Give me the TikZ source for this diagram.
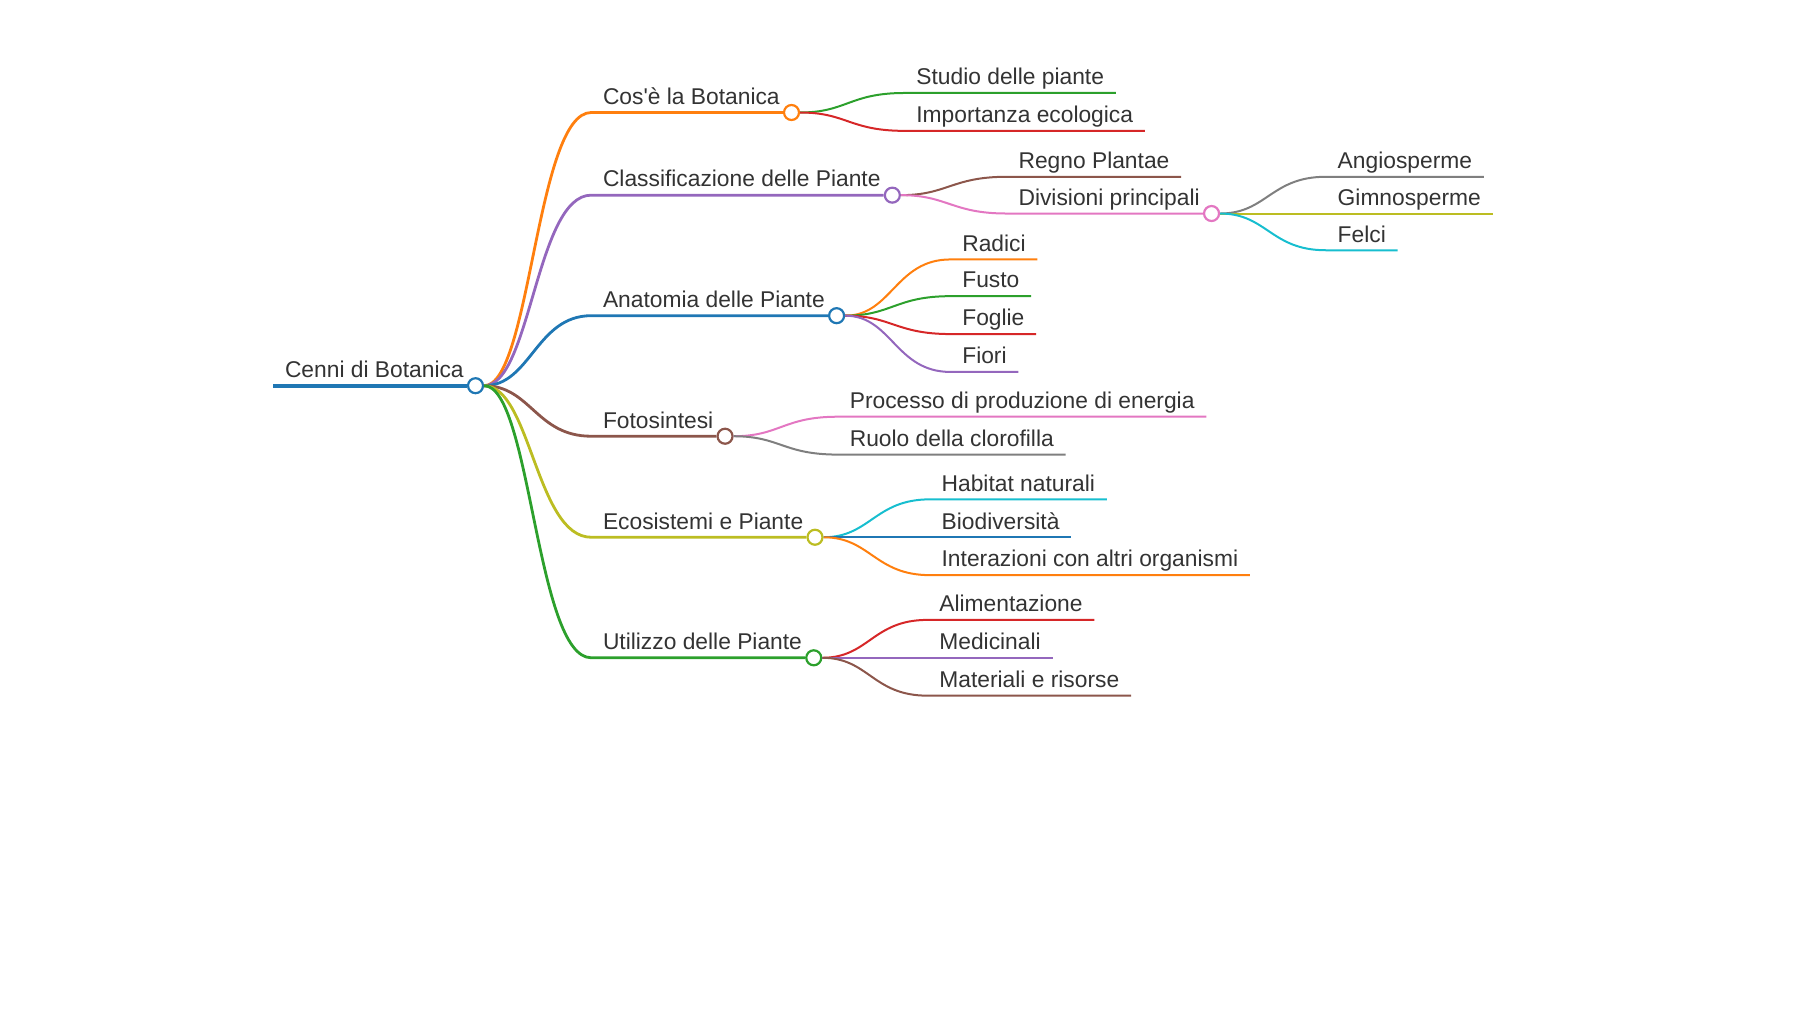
\documentclass[tikz,border=0pt]{standalone}
\usepackage{fontspec}
\newfontfamily\mapfont{Liberation Sans}
\definecolor{tBlue}{HTML}{1F77B4}
\definecolor{tOrange}{HTML}{FF7F0E}
\definecolor{tGreen}{HTML}{2CA02C}
\definecolor{tRed}{HTML}{D62728}
\definecolor{tPurple}{HTML}{9467BD}
\definecolor{tBrown}{HTML}{8C564B}
\definecolor{tPink}{HTML}{E377C2}
\definecolor{tGray}{HTML}{7F7F7F}
\definecolor{tOlive}{HTML}{BCBD22}
\definecolor{tCyan}{HTML}{17BECF}
\definecolor{txt}{HTML}{333333}

\begin{document}
\begin{tikzpicture}[x=0.574pt, y=-0.574pt,
		topic/.style={anchor=south west, inner xsep=5.7pt, inner ysep=3.9pt, text height=8.5pt, text depth=0pt, text=txt, font=\mapfont\fontsize{11.4}{13}\selectfont},
		knot/.style={draw=#1, circle, fill=white, minimum size=7.5pt, inner sep=0pt, line width=1.1pt},
		lvl0/.style={line width=2pt},
		lvl1/.style={line width=1.4pt},
		lvl2/.style={line width=1pt}]
				\useasboundingbox (0,0) rectangle (1568,882);
				% root
				\node[topic] (R) at (238,336) {Cenni di Botanica};
				\node[knot=tBlue] (cR) at (R.south east) {};
				\draw[tBlue, lvl0] (R.south west) -- (cR);
				% first level
				\node[topic] (Cos) at (515,98) {Cos'è la Botanica};
				\node[knot=tOrange] (cCos) at (Cos.south east) {};
				\draw[tOrange, lvl1] (cR) .. controls +(48,0) and +(-48,0) .. (Cos.south west) -- (cCos);
				\node[topic] (Cla) at (515,170) {Classificazione delle Piante};
				\node[knot=tPurple] (cCla) at (Cla.south east) {};
				\draw[tPurple, lvl1] (cR) .. controls +(48,0) and +(-48,0) .. (Cla.south west) -- (cCla);
				\node[topic] (Ana) at (515,275) {Anatomia delle Piante};
				\node[knot=tBlue] (cAna) at (Ana.south east) {};
				\draw[tBlue, lvl1] (cR) .. controls +(48,0) and +(-48,0) .. (Ana.south west) -- (cAna);
				\node[topic] (Fot) at (515,380) {Fotosintesi};
				\node[knot=tBrown] (cFot) at (Fot.south east) {};
				\draw[tBrown, lvl1] (cR) .. controls +(48,0) and +(-48,0) .. (Fot.south west) -- (cFot);
				\node[topic] (Eco) at (515,468) {Ecosistemi e Piante};
				\node[knot=tOlive] (cEco) at (Eco.south east) {};
				\draw[tOlive, lvl1] (cR) .. controls +(48,0) and +(-48,0) .. (Eco.south west) -- (cEco);
				\node[topic] (Uti) at (515,573) {Utilizzo delle Piante};
				\node[knot=tGreen] (cUti) at (Uti.south east) {};
				\draw[tGreen, lvl1] (cR) .. controls +(48,0) and +(-48,0) .. (Uti.south west) -- (cUti);
				% Cos'e la Botanica
				\node[topic] (Stu) at (788,81) {Studio delle piante};
				\draw[tGreen, lvl2] (cCos) .. controls +(48,0) and +(-48,0) .. (Stu.south west) -- (Stu.south east);
				\node[topic] (Imp) at (788,114) {Importanza ecologica};
				\draw[tRed, lvl2] (cCos) .. controls +(48,0) and +(-48,0) .. (Imp.south west) -- (Imp.south east);
				% Classificazione
				\node[topic] (Reg) at (877,154) {Regno Plantae};
				\draw[tBrown, lvl2] (cCla) .. controls +(48,0) and +(-48,0) .. (Reg.south west) -- (Reg.south east);
				\node[topic] (Div) at (877,186) {Divisioni principali};
				\node[knot=tPink] (cDiv) at (Div.south east) {};
				\draw[tPink, lvl2] (cCla) .. controls +(48,0) and +(-48,0) .. (Div.south west) -- (cDiv);
				\node[topic] (Ang) at (1155,154) {Angiosperme};
				\draw[tGray, lvl2] (cDiv) .. controls +(48,0) and +(-48,0) .. (Ang.south west) -- (Ang.south east);
				\node[topic] (Gim) at (1155,186) {Gimnosperme};
				\draw[tOlive, lvl2] (cDiv) .. controls +(48,0) and +(-48,0) .. (Gim.south west) -- (Gim.south east);
				\node[topic] (Fel) at (1155,218) {Felci};
				\draw[tCyan, lvl2] (cDiv) .. controls +(48,0) and +(-48,0) .. (Fel.south west) -- (Fel.south east);
				% Anatomia
				\node[topic] (Rad) at (828,226) {Radici};
				\draw[tOrange, lvl2] (cAna) .. controls +(48,0) and +(-48,0) .. (Rad.south west) -- (Rad.south east);
				\node[topic] (Fus) at (828,258) {Fusto};
				\draw[tGreen, lvl2] (cAna) .. controls +(48,0) and +(-48,0) .. (Fus.south west) -- (Fus.south east);
				\node[topic] (Fog) at (828,291) {Foglie};
				\draw[tRed, lvl2] (cAna) .. controls +(48,0) and +(-48,0) .. (Fog.south west) -- (Fog.south east);
				\node[topic] (Fio) at (828,324) {Fiori};
				\draw[tPurple, lvl2] (cAna) .. controls +(48,0) and +(-48,0) .. (Fio.south west) -- (Fio.south east);
				% Fotosintesi
				\node[topic] (Pro) at (730,363) {Processo di produzione di energia};
				\draw[tPink, lvl2] (cFot) .. controls +(48,0) and +(-48,0) .. (Pro.south west) -- (Pro.south east);
				\node[topic] (Ruo) at (730,396) {Ruolo della clorofilla};
				\draw[tGray, lvl2] (cFot) .. controls +(48,0) and +(-48,0) .. (Ruo.south west) -- (Ruo.south east);
				% Ecosistemi
				\node[topic] (Hab) at (810,435) {Habitat naturali};
				\draw[tCyan, lvl2] (cEco) .. controls +(48,0) and +(-48,0) .. (Hab.south west) -- (Hab.south east);
				\node[topic] (Bio) at (810,468) {Biodiversità};
				\draw[tBlue, lvl2] (cEco) -- (Bio.south west) -- (Bio.south east);
				\node[topic] (Int) at (810,501) {Interazioni con altri organismi};
				\draw[tOrange, lvl2] (cEco) .. controls +(48,0) and +(-48,0) .. (Int.south west) -- (Int.south east);
				% Utilizzo
				\node[topic] (Ali) at (808,540) {Alimentazione};
				\draw[tRed, lvl2] (cUti) .. controls +(48,0) and +(-48,0) .. (Ali.south west) -- (Ali.south east);
				\node[topic] (Med) at (808,573) {Medicinali};
				\draw[tPurple, lvl2] (cUti) -- (Med.south west) -- (Med.south east);
				\node[topic] (Mat) at (808,606) {Materiali e risorse};
				\draw[tBrown, lvl2] (cUti) .. controls +(48,0) and +(-48,0) .. (Mat.south west) -- (Mat.south east);
			\end{tikzpicture}
\end{document}
